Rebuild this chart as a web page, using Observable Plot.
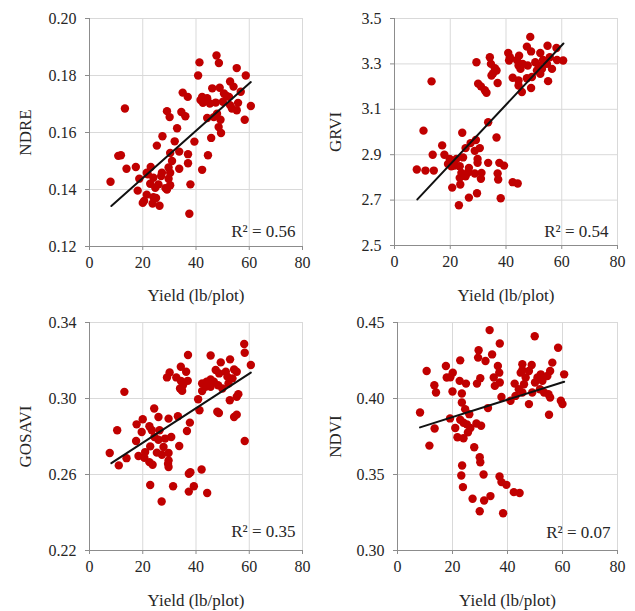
<!DOCTYPE html>
<html>
<head>
<meta charset="utf-8">
<script src="https://cdn.jsdelivr.net/npm/d3@7"></script>
<script src="https://cdn.jsdelivr.net/npm/@observablehq/plot@0.6"></script>
<style>
  html, body { margin: 0; padding: 0; background: #fff; }
  #wrap { position: relative; width: 635px; height: 611px; overflow: hidden; background: #fff; }
  .cell { position: absolute; }
</style>
</head>
<body>
<div id="wrap"></div>
<script>
// ---------- data ----------
const yieldTicks = [0, 20, 40, 60, 80];

const ndreX = [47.7,41.3,48.6,40.8,55.3,58.7,52.8,54.1,46.1,48.9,35.0,36.9,42.3,51.5,56.8,42.6,45.2,47.4,52.8,55.8,60.6,13.3,29.1,30.1,34.5,36.0,44.2,46.7,49.2,55.3,58.3,48.5,49.4,32.9,45.7,27.4,25.3,32.0,39.4,10.8,11.8,33.7,37.0,44.5,37.0,30.3,13.9,17.4,33.7,42.3,23.0,31.0,29.7,7.9,18.7,21.9,24.0,26.9,29.7,22.8,25.9,30.3,37.9,18.1,29.1,21.5,24.0,20.0,23.7,26.3,37.5,21.5,27.2,24.7,30.3,41.7,50.1,53.5,47.9,52.4,50.5,44.2,20.5,25.0,28.5];
const ndreY = [0.187,0.1846,0.1844,0.180,0.1826,0.180,0.1779,0.1761,0.1755,0.1757,0.174,0.1725,0.1725,0.1728,0.1743,0.1704,0.1702,0.1705,0.1696,0.1704,0.1693,0.1684,0.1675,0.1654,0.1672,0.1657,0.1651,0.1654,0.1645,0.1678,0.1645,0.1619,0.1598,0.1615,0.1581,0.1587,0.1554,0.1569,0.1568,0.1518,0.152,0.1533,0.1524,0.152,0.1492,0.1528,0.1473,0.1479,0.1473,0.1469,0.1479,0.150,0.1477,0.1427,0.1438,0.1453,0.1441,0.1447,0.1438,0.142,0.1418,0.1415,0.1418,0.1396,0.140,0.1382,0.1373,0.1353,0.1351,0.1343,0.1315,0.1459,0.1459,0.1406,0.1459,0.1714,0.1708,0.1684,0.1666,0.1725,0.1737,0.172,0.136,0.137,0.1405];

const grviX = [48.7,47.5,54.9,58.1,40.8,44.7,49.0,52.3,34.2,29.4,34.6,36.0,36.6,35.4,34.8,41.1,43.9,46.0,47.8,50.5,53.3,55.7,58.3,60.5,45.2,51.1,52.9,54.7,52.3,42.4,44.5,47.5,55.1,13.3,30.0,31.0,37.0,32.4,33.0,45.7,49.0,44.5,33.6,10.4,24.3,36.6,29.2,27.3,17.1,25.5,30.6,28.8,13.7,17.9,19.8,22.2,24.6,29.8,19.2,21.6,23.4,29.8,33.6,37.6,39.3,8.0,11.1,14.1,24.0,26.4,28.8,31.2,23.4,25.5,31.0,37.0,37.2,42.4,44.2,23.6,20.7,29.6,26.7,38.1,23.1,20.4,26.7,44.5,49.3,51.7,56.5,41.4];
const grviY = [3.419,3.376,3.38,3.37,3.348,3.336,3.355,3.348,3.329,3.307,3.30,3.281,3.271,3.259,3.249,3.315,3.317,3.30,3.293,3.307,3.317,3.329,3.317,3.315,3.278,3.271,3.278,3.30,3.256,3.239,3.227,3.237,3.224,3.223,3.213,3.201,3.216,3.184,3.173,3.176,3.194,3.205,3.043,3.006,2.997,2.976,2.965,2.951,2.941,2.929,2.929,2.917,2.90,2.90,2.881,2.881,2.888,2.881,2.859,2.852,2.849,2.864,2.864,2.864,2.852,2.835,2.83,2.83,2.82,2.823,2.817,2.82,2.798,2.805,2.794,2.817,2.791,2.779,2.773,2.769,2.755,2.73,2.711,2.708,2.677,2.849,2.842,3.293,3.242,3.293,3.278,3.329];

const gosaviX = [58.1,58.3,60.6,37.0,45.5,49.3,52.8,34.3,30.1,36.3,29.1,32.6,34.3,36.9,35.1,34.0,34.8,47.4,48.7,51.2,54.3,55.3,51.8,53.7,42.3,44.0,45.5,46.7,48.3,45.5,43.6,42.3,52.2,49.9,55.9,55.3,52.7,40.8,41.3,48.0,48.6,54.3,55.3,58.3,13.1,24.3,20.0,17.7,22.5,25.9,29.7,33.2,37.7,10.4,19.6,23.4,24.4,17.5,22.8,25.9,28.4,30.7,33.7,7.6,13.9,11.0,18.4,20.6,22.5,23.7,27.2,29.7,29.5,29.7,36.6,37.3,37.9,42.1,22.8,31.4,39.2,37.3,44.2,27.1,29.7,25.3,27.8,20.9,26.3];
const gosaviY = [0.3287,0.3241,0.3176,0.3229,0.3226,0.319,0.3206,0.3167,0.3137,0.3141,0.3111,0.3111,0.3093,0.3093,0.307,0.3053,0.304,0.315,0.3132,0.3141,0.3153,0.3141,0.3115,0.3106,0.3079,0.3088,0.31,0.3088,0.307,0.3062,0.3062,0.3039,0.3079,0.3053,0.3023,0.3009,0.2991,0.2996,0.2938,0.293,0.2924,0.2903,0.2915,0.2776,0.3035,0.2947,0.2891,0.2864,0.2854,0.2903,0.2894,0.2907,0.2873,0.2833,0.2824,0.2833,0.2797,0.2776,0.2748,0.2783,0.2789,0.2797,0.275,0.2713,0.2686,0.2648,0.2697,0.2688,0.2665,0.2651,0.2704,0.2713,0.2656,0.2639,0.2829,0.2604,0.2612,0.2626,0.2545,0.2538,0.2538,0.251,0.2503,0.2458,0.2674,0.2715,0.2745,0.2718,0.2833];

const ndviX = [33.5,49.9,37.2,58.4,29.5,29.3,34.4,22.8,32.0,56.3,10.6,17.6,20.1,36.5,37.0,45.4,48.8,45.4,47.8,52.1,54.5,55.5,60.6,17.9,19.2,22.6,24.9,30.1,28.9,35.0,35.4,37.2,13.4,14.0,20.0,23.4,23.4,24.6,26.1,8.2,19.1,22.8,13.5,21.0,11.6,21.8,24.0,25.6,26.5,28.7,30.4,27.9,29.9,30.1,23.5,31.3,23.2,23.8,37.1,37.8,39.6,42.3,44.4,33.8,37.8,32.9,42.6,44.1,46.0,50.0,50.9,52.7,51.8,53.3,54.9,55.5,59.4,60.0,55.1,47.8,41.1,42.9,45.4,49.0,44.8,46.6,27.3,29.9,38.4,31.5,24.0,25.2];
const ndviY = [0.445,0.441,0.4362,0.4334,0.4317,0.4269,0.429,0.4251,0.4247,0.4236,0.4181,0.4214,0.417,0.4214,0.417,0.4225,0.4221,0.4186,0.4181,0.4159,0.4148,0.4181,0.4159,0.4138,0.414,0.4116,0.4098,0.4133,0.4098,0.4138,0.4083,0.4105,0.4087,0.4039,0.4046,0.4033,0.3974,0.393,0.3897,0.3908,0.3869,0.386,0.3803,0.3806,0.369,0.3745,0.3738,0.3777,0.3806,0.3836,0.3821,0.3679,0.3614,0.3581,0.3559,0.35,0.3493,0.3417,0.3487,0.345,0.3432,0.3384,0.3378,0.3358,0.401,0.3937,0.4098,0.4061,0.4094,0.4105,0.4138,0.4116,0.4061,0.4039,0.4028,0.4007,0.3985,0.3963,0.3893,0.3963,0.3985,0.4017,0.4039,0.4039,0.417,0.4138,0.334,0.3258,0.3245,0.3329,0.384,0.383];

// trend line end points (yield, index)
const fitX = [8.2, 60.6];
const ndreFit = [0.1342, 0.1777];
const grviFit = [2.703, 3.39];
const gosaviFit = [0.266, 0.3136];
const ndviFit = [0.381, 0.411];

const ndreTicks = [0.12, 0.14, 0.16, 0.18, 0.20];
const grviTicks = [2.5, 2.7, 2.9, 3.1, 3.3, 3.5];
const gosaviTicks = [0.22, 0.26, 0.30, 0.34];
const ndviTicks = [0.30, 0.35, 0.40, 0.45];

const r2Labels = ["R² = 0.56", "R² = 0.54", "R² = 0.35", "R² = 0.07"];
const yTitles = ["NDRE", "GRVI", "GOSAVI", "NDVI"];
const xTitle = "Yield (lb/plot)";

// ---------- layout ----------
const panels = [
  {xs: ndreX, ys: ndreY, fit: ndreFit, ticks: ndreTicks, fmt: ".2f", title: yTitles[0], r2: r2Labels[0],
   left: 0, top: 0, w: 317, h: 305, ml: 89, mr: 15, mt: 18, mb: 59, ydx: -64, xdy: 49, rdx: -7, rdy: -15},
  {xs: grviX, ys: grviY, fit: grviFit, ticks: grviTicks, fmt: ".1f", title: yTitles[1], r2: r2Labels[1],
   left: 317, top: 0, w: 318, h: 305, ml: 77, mr: 18, mt: 18, mb: 60, ydx: -59, xdy: 50, rdx: -9, rdy: -14},
  {xs: gosaviX, ys: gosaviY, fit: gosaviFit, ticks: gosaviTicks, fmt: ".2f", title: yTitles[2], r2: r2Labels[2],
   left: 0, top: 305, w: 317, h: 306, ml: 89, mr: 15, mt: 17, mb: 61, ydx: -64, xdy: 50, rdx: -7, rdy: -19},
  {xs: ndviX, ys: ndviY, fit: ndviFit, ticks: ndviTicks, fmt: ".2f", title: yTitles[3], r2: r2Labels[3],
   left: 317, top: 305, w: 318, h: 306, ml: 80, mr: 18, mt: 17, mb: 61, ydx: -62, xdy: 50, rdx: -7, rdy: -18}
];

const FONT = "'Liberation Serif', 'Times New Roman', serif";
const TEXT = "#262626";
const GRID = "#d9d9d9";
const AXIS = "#8c8c8c";
const DOT = "#c00000";

const wrap = document.getElementById("wrap");

for (const p of panels) {
  const pts = p.xs.map((x, i) => ({x, y: p.ys[i]}));
  const fitPts = fitX.map((x, i) => ({x, y: p.fit[i]}));
  const yDomain = [p.ticks[0], p.ticks[p.ticks.length - 1]];

  const chart = Plot.plot({
    width: p.w,
    height: p.h,
    marginLeft: p.ml,
    marginRight: p.mr,
    marginTop: p.mt,
    marginBottom: p.mb,
    x: {domain: [0, 80]},
    y: {domain: yDomain},
    style: {fontFamily: FONT, fontSize: "16px", color: TEXT, background: "white", overflow: "visible"},
    marks: [
      Plot.gridX(yieldTicks.slice(1), {stroke: GRID, strokeOpacity: 1, strokeWidth: 1}),
      Plot.gridY(p.ticks.slice(1), {stroke: GRID, strokeOpacity: 1, strokeWidth: 1}),
      Plot.ruleX([0], {stroke: AXIS, strokeWidth: 1}),
      Plot.ruleY([yDomain[0]], {stroke: AXIS, strokeWidth: 1}),
      Plot.axisY(p.ticks, {tickSize: 4, tickPadding: 9, tickFormat: d3.format(p.fmt), label: null,
        stroke: AXIS, fill: TEXT, fontSize: 16, fontFamily: FONT}),
      Plot.axisX(yieldTicks, {tickSize: 4, tickPadding: 6, label: null,
        stroke: AXIS, fill: TEXT, fontSize: 16, fontFamily: FONT}),
      Plot.dot(pts, {x: "x", y: "y", r: 4.2, fill: DOT, stroke: "none"}),
      Plot.line(fitPts, {x: "x", y: "y", stroke: "#111", strokeWidth: 2}),
      Plot.text([p.title], {text: d => d, frameAnchor: "left", rotate: -90, dx: p.ydx,
        lineAnchor: "middle", textAnchor: "middle", fill: TEXT, fontSize: 17, fontFamily: FONT}),
      Plot.text([xTitle], {text: d => d, frameAnchor: "bottom", dy: p.xdy,
        lineAnchor: "middle", textAnchor: "middle", fill: TEXT, fontSize: 17, fontFamily: FONT}),
      Plot.text([p.r2], {text: d => d, frameAnchor: "bottom-right", dx: p.rdx, dy: p.rdy,
        lineAnchor: "middle", textAnchor: "end", fill: TEXT, fontSize: 17, fontFamily: FONT})
    ]
  });

  const cell = document.createElement("div");
  cell.className = "cell";
  cell.style.left = p.left + "px";
  cell.style.top = p.top + "px";
  cell.appendChild(chart);
  wrap.appendChild(cell);
}
</script>
</body>
</html>
